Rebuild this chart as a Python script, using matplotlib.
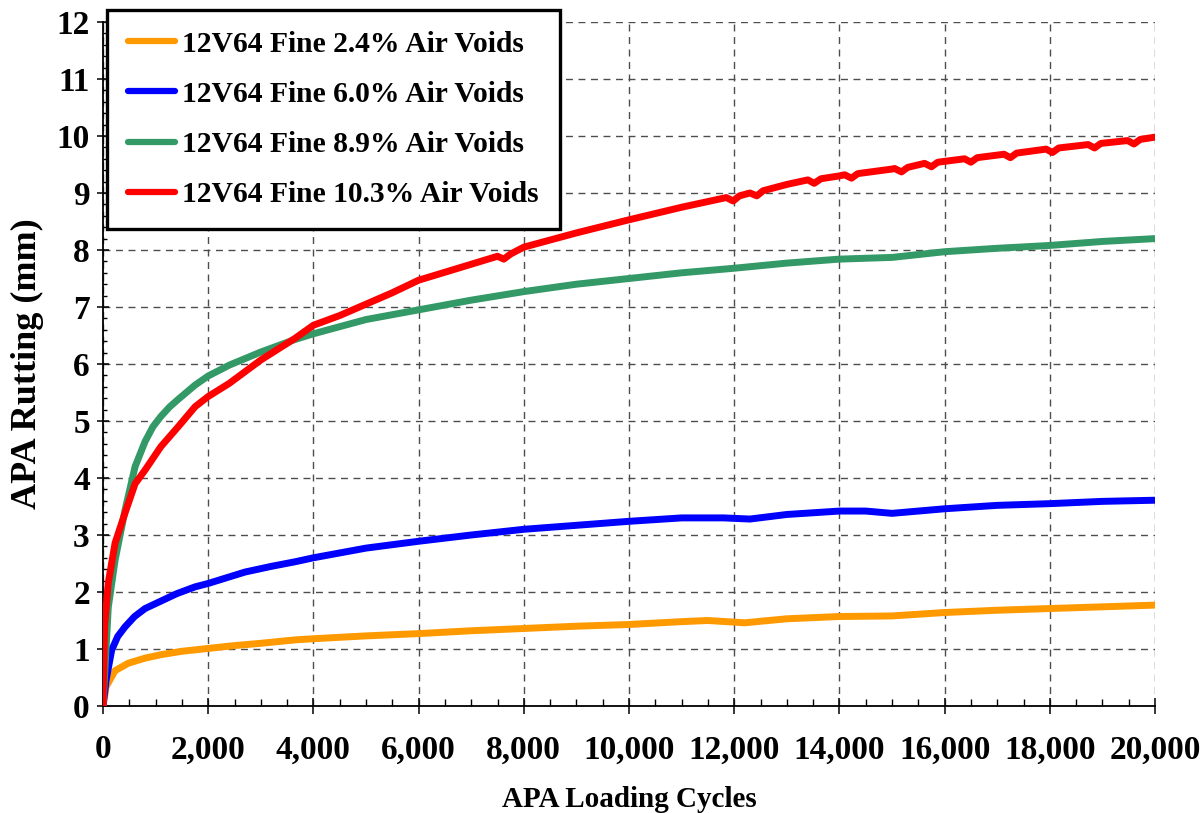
import matplotlib
matplotlib.use("Agg")
import matplotlib.pyplot as plt
from matplotlib.ticker import MultipleLocator, FuncFormatter

plt.rcParams['font.family'] = ['Liberation Serif', 'DejaVu Serif']
plt.rcParams['font.weight'] = 'bold'

# rut depth (mm) vs loading cycles for each mix
cyc_24 = [0, 60, 230, 480, 800, 1100, 1500, 2000, 2500, 3000, 3650, 4000, 5000, 6000, 7000,
          8000, 9000, 10000, 11000, 11500, 12200, 13000, 14000, 15000, 16000, 17000, 18000,
          19000, 20000]
rut_24 = [0, 0.34, 0.62, 0.75, 0.84, 0.90, 0.96, 1.01, 1.06, 1.10, 1.16, 1.18, 1.23, 1.27, 1.32,
          1.36, 1.40, 1.43, 1.48, 1.50, 1.46, 1.53, 1.57, 1.58, 1.64, 1.68, 1.71,
          1.74, 1.77]

cyc_60 = [0, 60, 165, 280, 420, 600, 800, 1100, 1400, 1750, 2000, 2700, 3200, 3650, 4000, 5000,
          6000, 7000, 8000, 9000, 10000, 11000, 11800, 12300, 13000, 14000, 14500, 15000,
          16000, 17000, 18000, 19000, 20000]
rut_60 = [0, 0.46, 0.98, 1.22, 1.39, 1.57, 1.71, 1.84, 1.97, 2.09, 2.15, 2.35, 2.45, 2.53, 2.60,
          2.77, 2.89, 3.00, 3.10, 3.17, 3.24, 3.30, 3.30, 3.28, 3.36, 3.42, 3.42, 3.38,
          3.46, 3.52, 3.55, 3.59, 3.61]

cyc_89 = [0, 100, 230, 420, 610, 800, 950, 1100, 1270, 1430, 1750, 2000, 2400, 3000, 3650,
          4000, 5000, 6000, 7000, 8000, 9000, 10000, 11000, 12000, 13000, 14000, 15000,
          16000, 17000, 18000, 19000, 20000]
rut_89 = [0, 1.73, 2.56, 3.44, 4.20, 4.64, 4.90, 5.08, 5.25, 5.38, 5.63, 5.79, 5.98, 6.21, 6.43,
          6.53, 6.78, 6.95, 7.12, 7.27, 7.40, 7.50, 7.60, 7.68, 7.77, 7.84, 7.87,
          7.97, 8.03, 8.08, 8.15, 8.20]

cyc_103 = [0, 30, 100, 230, 420, 610, 800, 1100, 1430, 1750, 2000, 2400, 3000, 3650, 4000,
           4500, 5000, 5500, 6000, 7000, 7500, 7620, 7750, 8000, 9000, 10000, 11000,
           11850, 11980, 12100, 12300, 12430, 12550, 13000, 13400, 13520, 13650, 14000,
           14100, 14230, 14350, 15000, 15050, 15180, 15300, 15620, 15750, 15870, 16380,
           16500, 16620, 17130, 17250, 17370, 17930, 18050, 18170, 18730, 18850, 18970,
           19480, 19600, 19720, 20000]
rut_103 = [0, 1.40, 2.16, 2.86, 3.39, 3.90, 4.14, 4.55, 4.90, 5.25, 5.43, 5.66, 6.07, 6.45, 6.68,
           6.85, 7.05, 7.25, 7.47, 7.75, 7.89, 7.84, 7.93, 8.05, 8.30, 8.53, 8.75,
           8.92, 8.86, 8.95, 9.00, 8.95, 9.04, 9.15, 9.23, 9.17, 9.25, 9.30,
           9.32, 9.26, 9.34, 9.42, 9.43, 9.37, 9.45, 9.52, 9.46, 9.54, 9.60,
           9.54, 9.62, 9.68, 9.62, 9.70, 9.77, 9.71, 9.79, 9.85, 9.79, 9.87,
           9.92, 9.86, 9.94, 9.98]

series = [
    (cyc_24, rut_24, '#FF9900', '12V64 Fine 2.4% Air Voids'),
    (cyc_60, rut_60, '#0000FF', '12V64 Fine 6.0% Air Voids'),
    (cyc_89, rut_89, '#339966', '12V64 Fine 8.9% Air Voids'),
    (cyc_103, rut_103, '#FF0000', '12V64 Fine 10.3% Air Voids'),
]

fig = plt.figure(figsize=(12.01, 8.13), dpi=100)
ax = fig.add_axes([103 / 1201, 1 - 706 / 813, (1155 - 103) / 1201, (706 - 22) / 813])

for x, y, c, lab in series:
    ax.plot(x, y, color=c, lw=5, label=lab, solid_joinstyle='round',
            solid_capstyle='round', zorder=3)

ax.set_xlim(0, 20000)
ax.set_ylim(0, 12)
ax.xaxis.set_major_locator(MultipleLocator(2000))
ax.xaxis.set_minor_locator(MultipleLocator(500))
ax.yaxis.set_major_locator(MultipleLocator(1))
ax.yaxis.set_minor_locator(MultipleLocator(0.2))
ax.xaxis.set_major_formatter(FuncFormatter(lambda v, p: f"{int(v):,}"))

ax.grid(True, which='major', color='0.3', linestyle=(0, (5, 4)), lw=1.0, zorder=1)
ax.set_axisbelow(True)

for s in ['top', 'right']:
    ax.spines[s].set_visible(False)
for s in ['bottom', 'left']:
    ax.spines[s].set_linewidth(1.3)

ax.tick_params(axis='x', which='major', direction='inout', length=11, width=1.1,
               labelsize=24, pad=15)
ax.tick_params(axis='x', which='minor', direction='in', length=5, width=1.0)
ax.tick_params(axis='y', which='major', direction='inout', length=9, width=1.1,
               labelsize=24, pad=5)
ax.tick_params(axis='y', which='minor', direction='in', length=3, width=1.0)

ax.set_xlabel('APA Loading Cycles', fontsize=21, fontweight='bold', labelpad=15)
ax.set_ylabel('APA Rutting (mm)', fontsize=26, fontweight='bold', labelpad=9)

leg = ax.legend(loc='upper left', bbox_to_anchor=(107 / 1201, 1 - 10 / 813),
                bbox_transform=fig.transFigure, borderaxespad=0,
                prop={'size': 21.3, 'weight': 'bold'}, handlelength=1.6,
                handletextpad=0.25, labelspacing=0.78, borderpad=0.7,
                fancybox=False, framealpha=1, edgecolor='black')
leg.get_frame().set_linewidth(2.4)
for h in leg.get_lines():
    h.set_linewidth(4.5)

fig.savefig('out.png', dpi=100)
